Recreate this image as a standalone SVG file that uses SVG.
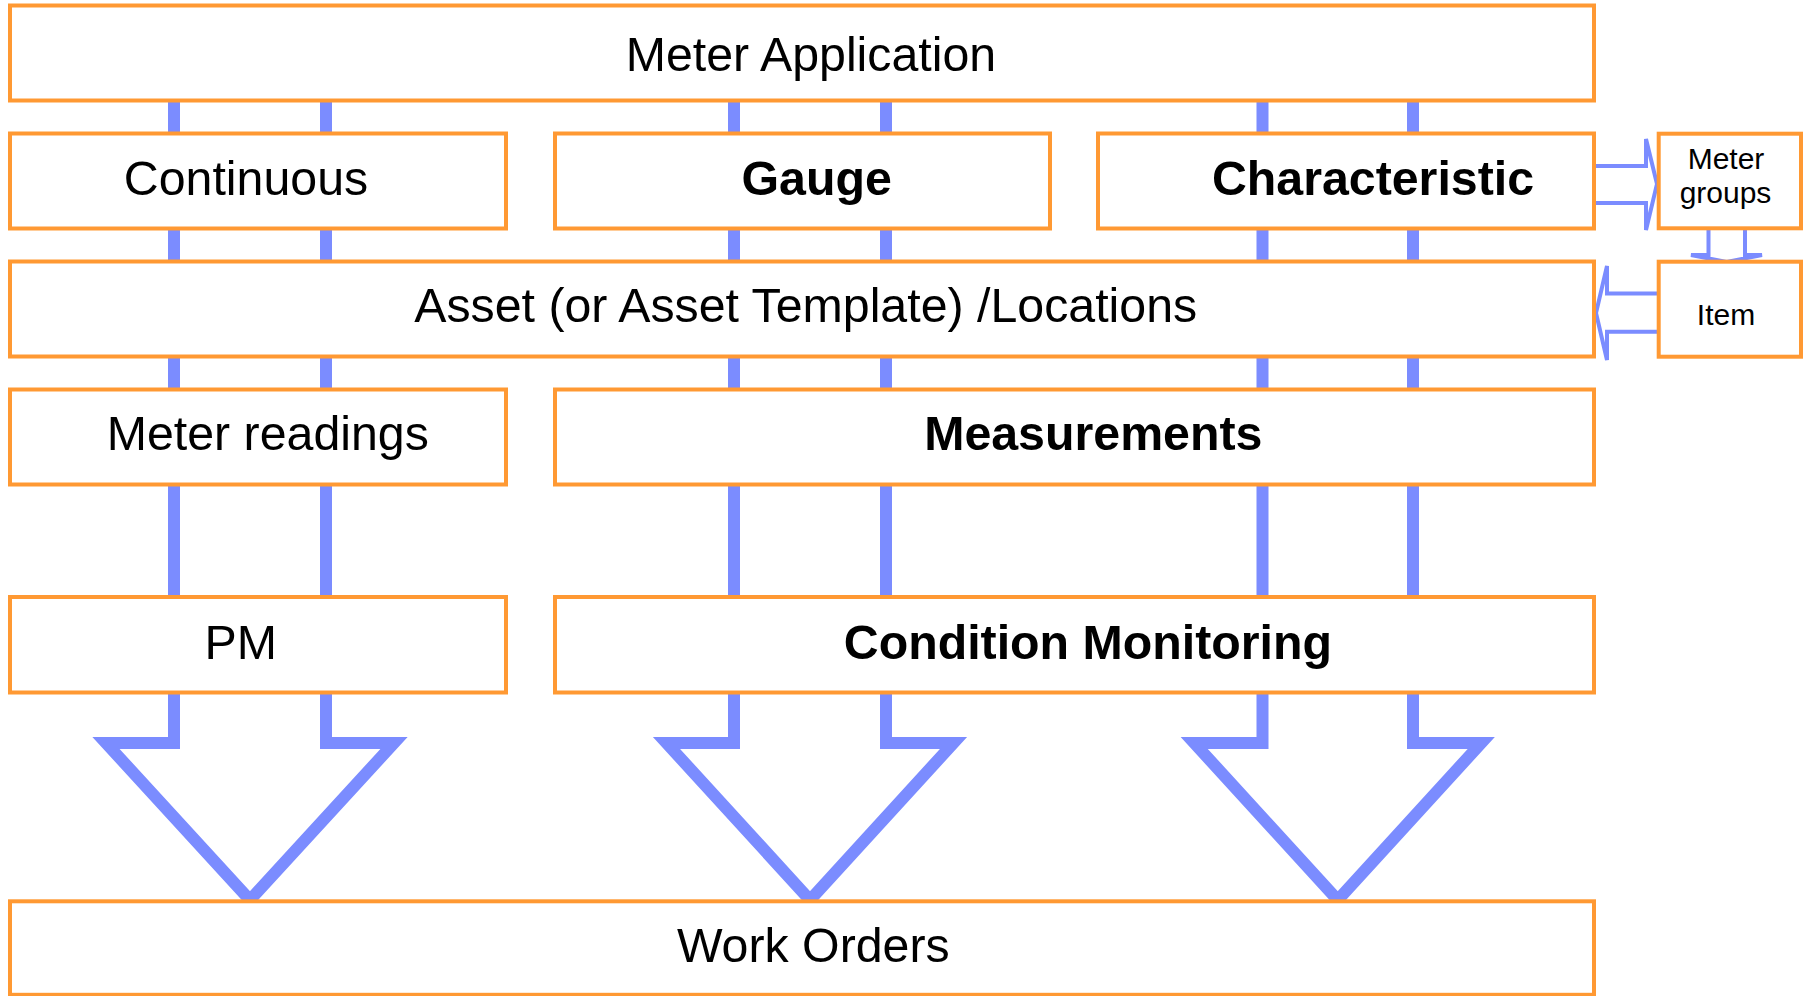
<svg xmlns="http://www.w3.org/2000/svg" width="1806" height="996" viewBox="0 0 1806 996">
<style>
.box{fill:#fff;stroke:#FF9933;stroke-width:4}
.flow{fill:none;stroke:#7B8CFF;stroke-width:12}
.side{fill:none;stroke:#7B8CFF;stroke-width:4}
.t{font-family:"Liberation Sans",Arial,sans-serif;font-size:48.3px;fill:#000;text-anchor:middle}
.b{font-weight:bold}
.s{font-family:"Liberation Sans",Arial,sans-serif;font-size:30px;fill:#000;text-anchor:middle}
</style>
<rect width="1806" height="996" fill="#fff"/>
<g id="connectors">
<path class="flow" d="M174,100 V743 H106 L250,900 L394,743 H326 V100"/>
<path class="flow" d="M734,100 V743 H666.5 L810,900 L953.5,743 H886 V100"/>
<path class="flow" d="M1262.5,100 V743 H1194.25 L1337.75,900 L1481.25,743 H1413 V100"/>
<path class="side" d="M1594,166 H1646 V139 L1657,184 L1646,230 V203 H1594"/>
<path class="side" d="M1708.5,228 V255 H1691 L1726.7,262 L1762,255 H1745 V228"/>
<path class="side" d="M1658,293.5 H1607 V266 L1596,313 L1607,360 V331.7 H1658"/>
</g>
<g id="meter-application"><rect class="box" x="10" y="5.5" width="1584" height="95"/><text class="t" x="811" y="70.5">Meter Application</text></g>
<g id="continuous"><rect class="box" x="10" y="133.5" width="496" height="95"/><text class="t" x="246" y="195">Continuous</text></g>
<g id="gauge"><rect class="box" x="555" y="133.5" width="495" height="95"/><text class="t b" x="816.7" y="194.5">Gauge</text></g>
<g id="characteristic"><rect class="box" x="1098" y="133.5" width="496" height="95"/><text class="t b" x="1373" y="194.5">Characteristic</text></g>
<g id="meter-groups"><rect class="box" x="1658.7" y="133.7" width="142.3" height="94.6"/><text class="s" x="1726" y="168.5">Meter</text><text class="s" x="1725.5" y="202.5">groups</text></g>
<g id="asset"><rect class="box" x="10" y="261.5" width="1584" height="95"/><text class="t" x="805.7" y="322">Asset (or Asset Template) /Locations</text></g>
<g id="item"><rect class="box" x="1658.7" y="261.7" width="142.3" height="95"/><text class="s" x="1726" y="324.5">Item</text></g>
<g id="meter-readings"><rect class="box" x="10" y="389.5" width="496" height="95"/><text class="t" x="267.8" y="450">Meter readings</text></g>
<g id="measurements"><rect class="box" x="555" y="389.5" width="1039" height="95"/><text class="t b" x="1093.3" y="450">Measurements</text></g>
<g id="pm"><rect class="box" x="10" y="597" width="496" height="95.5"/><text class="t" x="240.7" y="658.5">PM</text></g>
<g id="condition-monitoring"><rect class="box" x="555" y="597" width="1039" height="95.5"/><text class="t b" x="1087.9" y="658.5">Condition Monitoring</text></g>
<g id="work-orders"><rect class="box" x="10" y="901.3" width="1584" height="93.5"/><text class="t" x="813.3" y="962">Work Orders</text></g>
</svg>
